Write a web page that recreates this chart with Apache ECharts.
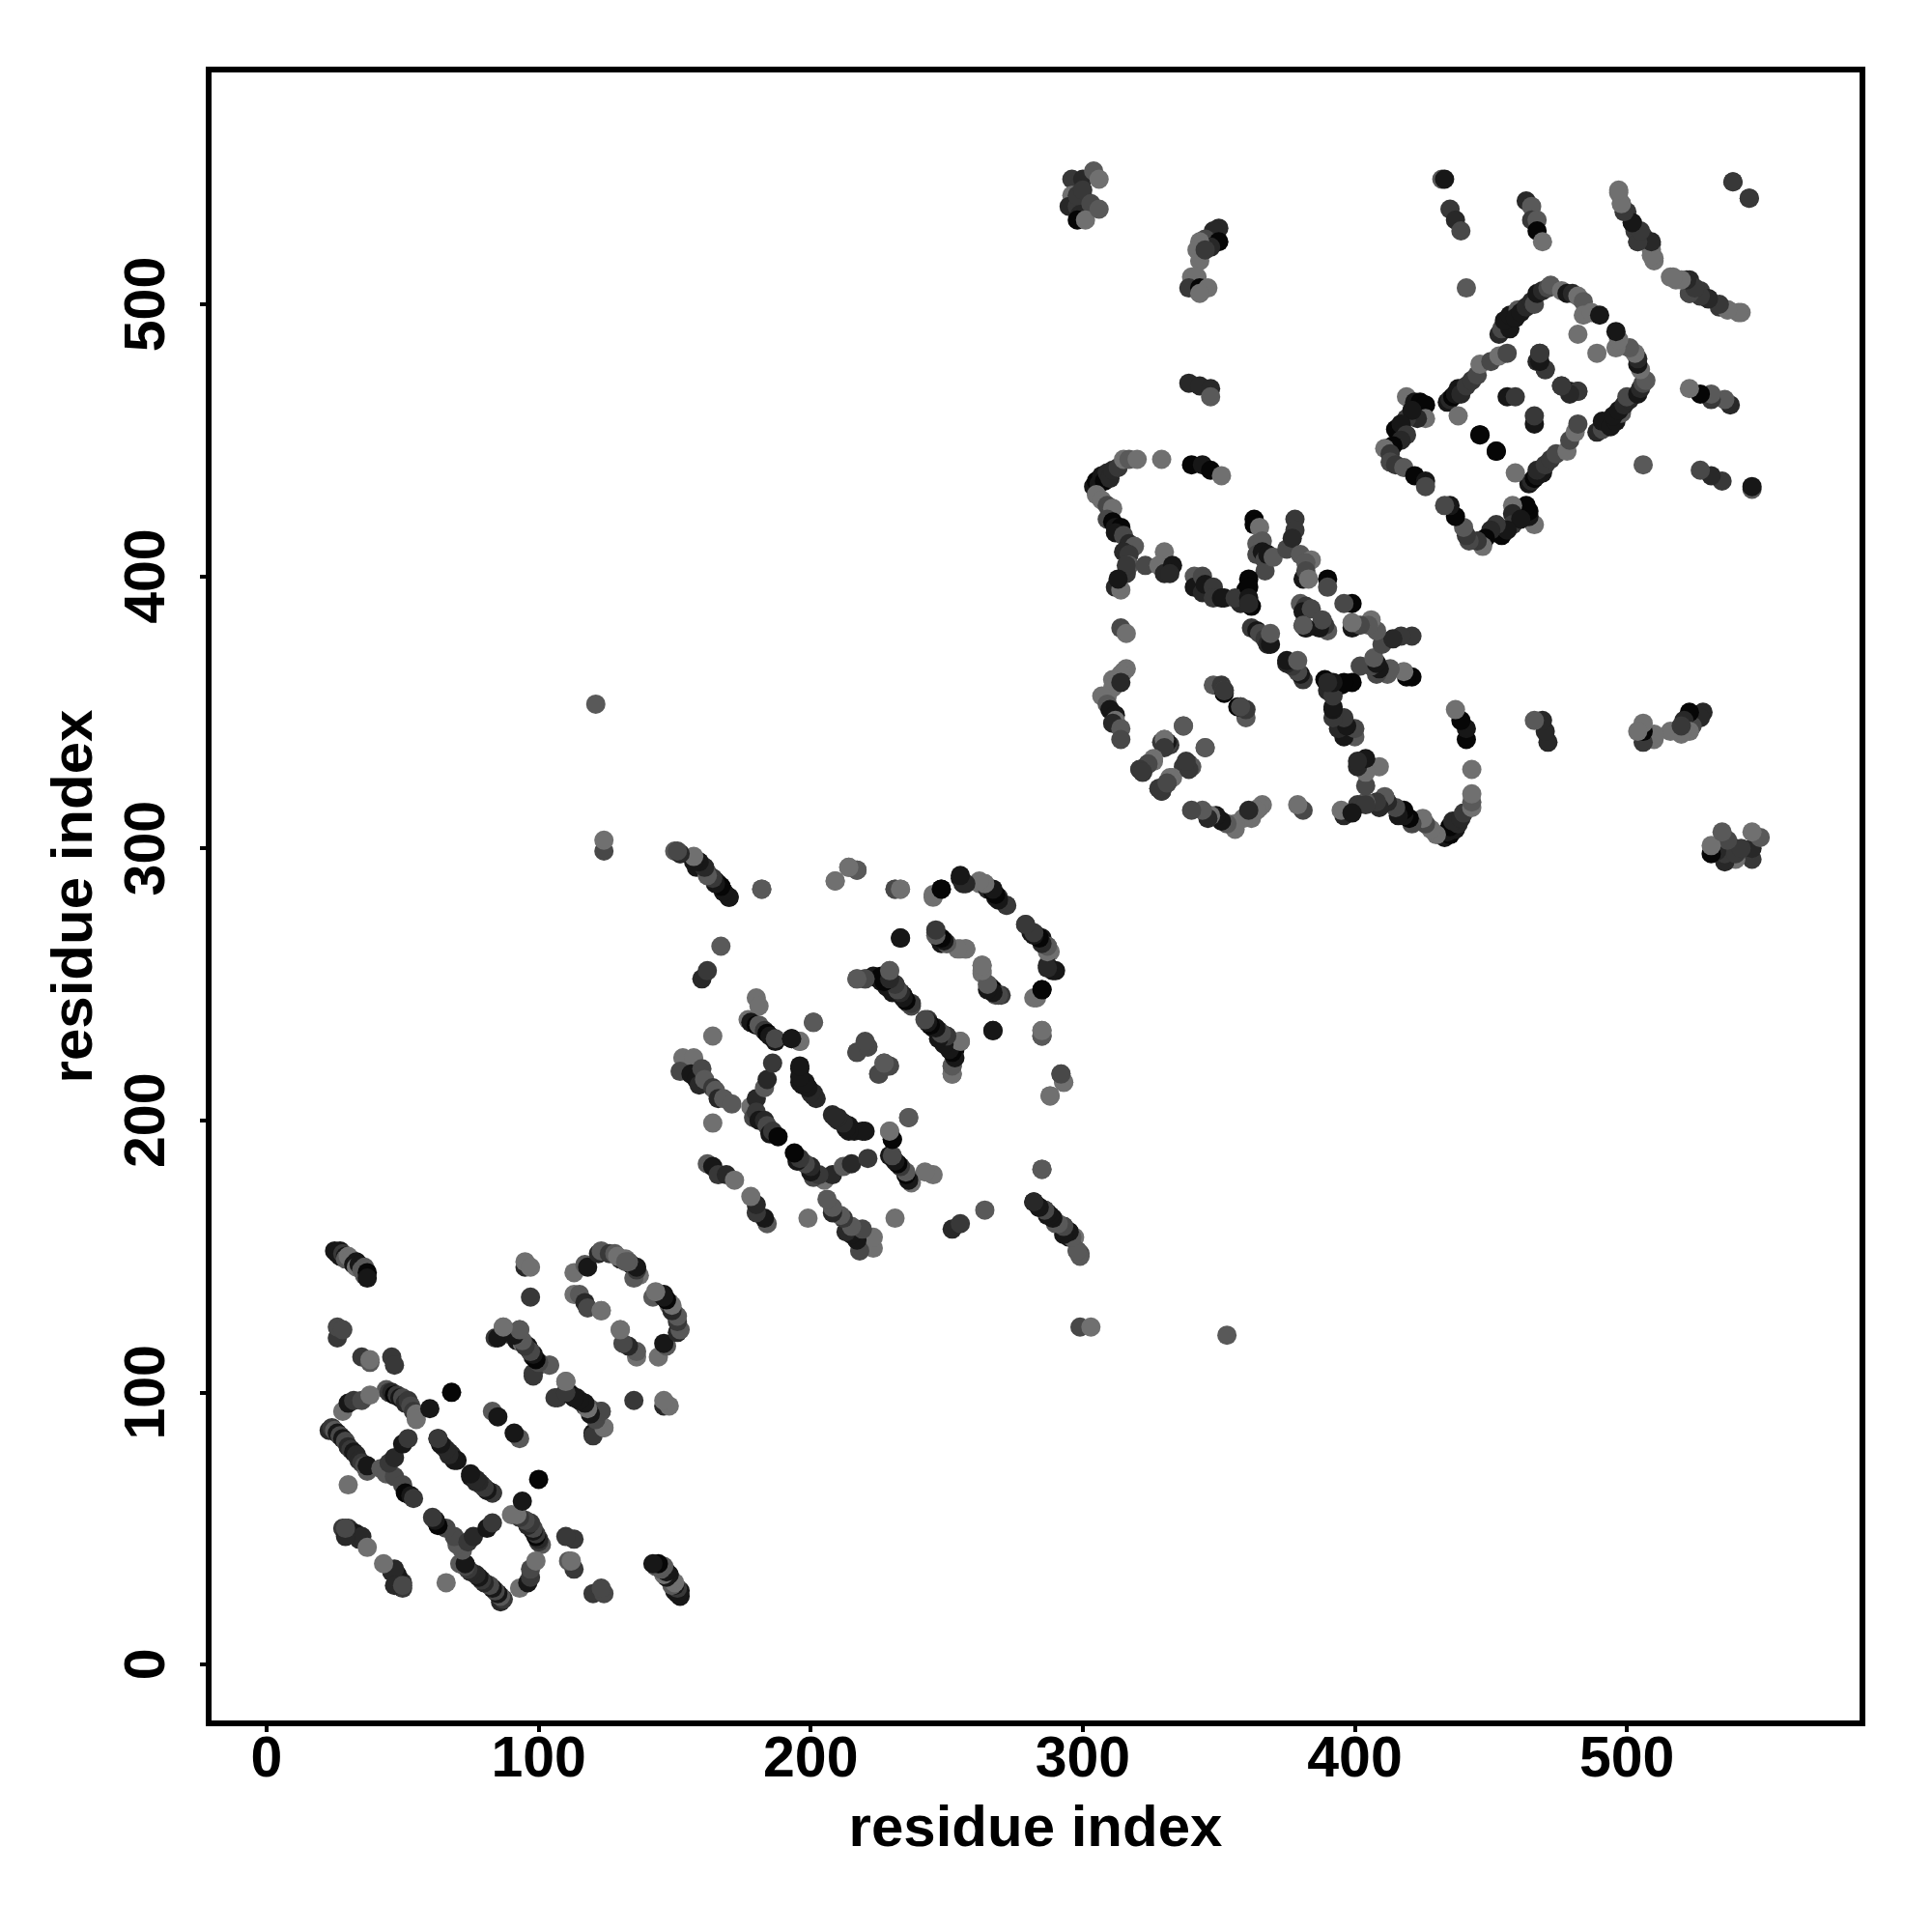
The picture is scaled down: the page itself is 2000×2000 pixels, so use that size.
<!DOCTYPE html>
<html><head><meta charset="utf-8">
<style>html,body{margin:0;padding:0;background:#fff}#c{width:2000px;height:2000px}</style>
<script src="https://cdn.jsdelivr.net/npm/echarts@6/dist/echarts.min.js"></script>
</head><body><div id="c"></div>
<script>
// each contact: [residue i, residue j, shade level 0 (darkest) .. 6 (lightest)], i < j; the map is symmetric
const tickValues = [0, 100, 200, 300, 400, 500];
const axisTitle = 'residue index';
const shadeLevels = ['#060606','#171717','#282828','#383838','#484848','#595959','#707070'];

const domainOne = [
[25,152,1],[26,151,1],[27,152,1],[27,150,1],[28,151,3],[29,150,1],[29,149,5],[30,150,6],[31,149,6],[32,147,1],[33,148,1],[33,146,6],[34,147,1],[35,145,5],[36,146,5],[36,143,5],[37,144,0],[37,142,1],
[26,120,3],[26,124,4],[28,123,4],[35,113,3],[38,111,5],[38,112,6],[46,113,3],[47,110,3],
[44,101,5],[45,100,3],[46,100,2],[47,99,0],[48,99,3],[49,98,1],[50,98,4],[51,96,2],[52,97,3],[53,95,4],[54,93,3],[55,92,6],[55,90,6],
[28,93,6],[30,96,1],[32,97,3],[35,97,4],[38,99,6],[60,94,1],[68,100,0],[83,93,5],[85,91,1],
[23,86,2],[24,87,3],[25,86,5],[26,85,1],[27,84,4],[28,83,1],[29,82,4],[30,80,2],[31,79,3],[32,78,1],[33,77,2],[34,75,2],[35,74,3],[36,73,4],[37,71,5],[37,73,1],
[42,72,5],[44,70,5],[47,69,4],[50,66,4],[51,63,0],[53,62,1],[54,61,3],[45,74,3],[47,76,2],[50,81,1],[52,83,3],
[63,83,3],[64,81,1],[65,80,3],[67,78,2],[68,77,2],[70,75,1],[75,69,1],[77,67,2],[79,66,2],[81,64,1],[83,63,3],
[28,50,3],[30,50,3],[31,49,2],[33,48,1],[34,46,2],[35,47,2],[37,43,6],[29,47,2],[29,50,4],[30,66,6],
[95,146,2],[95,148,6],[97,146,6],[97,135,3],
[113,144,6],[117,147,5],[118,146,1],[122,151,2],[123,152,5],[113,136,6],[115,136,5],[117,133,2],[118,131,4],[123,130,6],
[126,151,3],[128,151,5],[130,149,2],[132,149,6],[134,147,0],[135,146,1],[137,143,6],
[130,123,6],[142,135,5],[145,136,3],[146,136,1],[148,133,5],[150,129,6],[148,132,5],
[84,120,3],[87,124,6],[90,121,4],[93,123,4],[92,119,1],[94,118,6],[96,117,1],[97,115,1],[98,113,1],[98,106,3],[100,110,3],[104,110,6],
[107,98,3],[110,104,5],[111,100,4],[112,99,0],[114,98,1],[115,97,4],[117,95,3],[119,94,5],[120,85,1],[121,91,1],[123,93,5],[124,87,6]
];

const domainTwo = [
[150,299,5],[152,298,5],[157,296,5],[159,295,1],[158,293,1],[161,293,4],[162,291,5],[164,289,1],[165,288,1],[166,287,1],[167,286,4],[168,284,1],[170,282,2],
[182,285,5],[167,264,5],[160,252,2],[162,255,3],
[209,288,6],[214,293,6],[217,292,4],[231,285,5],[233,285,6],[233,267,1],
[245,282,6],[248,285,0],[255,289,1],[256,287,2],[262,287,6],[264,287,5],[265,285,2],[267,284,0],[268,282,1],[269,282,3],[272,279,3],
[279,272,3],[281,269,1],[283,268,0],[285,267,1],[287,264,6],[288,262,6],[287,257,2],[290,255,1],[283,245,6],[285,248,0],[285,231,4],[285,233,6],
[292,217,5],[293,214,6],[288,209,6],[285,182,5],
[282,170,1],[284,168,1],[286,167,0],[287,165,1],[289,164,3],[290,162,5],[293,161,2],[295,159,1],[295,157,1],[297,157,6],[298,152,2],[299,151,4],
[180,245,6],[181,242,6],[177,237,6],[178,236,1],[180,235,0],[181,235,5],[183,233,3],[184,232,0],[185,231,1],[187,229,1],[187,230,4],
[193,230,0],[196,229,6],[201,236,5],
[178,205,6],[180,208,2],[183,212,5],[184,215,2],[186,221,3],
[153,223,6],[157,223,6],[152,218,4],[156,217,1],[158,215,1],[160,219,4],[159,213,2],[161,215,5],[164,212,3],[165,211,5],[166,208,2],[168,208,5],[171,206,5],
[164,199,6],[164,231,6],
[179,201,4],[180,203,3],[181,200,1],[183,200,2],[184,198,4],[185,195,1],[186,196,3],[188,194,0],
[196,219,1],[196,214,1],[197,213,1],[199,212,2],[201,210,2],[201,209,2],[208,202,2],[210,200,2],[212,199,1],[214,198,1],[216,196,1],[220,196,1],
[229,196,6],[230,193,1],[236,201,5],
[217,225,4],[220,228,4],[221,227,5],[225,217,4],[227,221,4],[229,220,4],
[162,184,5],[164,183,1],[166,180,3],[169,180,2],[172,178,6],
[217,252,6],[220,252,5],[223,253,1],[225,252,0],[226,251,1],[229,255,6],[228,249,1],[231,250,3],[230,247,1],[232,248,4],[234,246,1],[235,244,0],[236,243,1],[237,242,4],
[243,237,3],[244,235,0],[245,234,1],[247,233,2],[248,232,4],[250,231,3],[251,227,0],[253,226,0],[252,229,2],[255,229,5],[252,220,4],[252,217,5],
[246,269,4],[247,267,1],[248,265,1],[250,265,5],[255,263,6],[257,263,6],
[263,257,6],[263,254,6],[265,250,5],[266,249,1],[267,248,0],[268,246,5],[270,246,3],[267,233,1]
];

const domainThree = [
[304,433,1],[305,435,0],[306,434,1],[307,437,1],[308,435,0],[309,438,2],[310,436,2],[311,439,2],[313,440,3],[315,443,6],[317,443,5],[320,443,6],[329,443,6],
[340,441,0],[344,441,1],[347,439,0],[351,437,6],
[305,430,6],[307,428,6],[309,426,4],[311,425,6],[309,421,4],[311,420,0],[312,418,1],[314,418,0],[312,416,1],[315,415,4],[317,412,2],[319,411,5],[315,409,2],[317,408,3],[317,404,5],[316,401,3],[316,404,3],[312,396,2],[314,395,6],[313,399,1],
[323,404,4],[330,409,6],[328,404,6],[330,401,2],[333,404,1],[332,401,2],
[341,400,5],[341,396,1],[344,400,4],[344,394,2],[345,397,1],[348,396,3],[348,392,3],[351,392,1],[352,392,1],
[363,421,0],[363,419,0],[365,418,6],[364,412,5],[366,413,5],[364,408,4],[366,409,1],[367,406,4],[367,402,4],[368,408,1],[370,407,5],
[375,410,4],[378,421,3],[378,417,3],[377,414,2],[380,408,5],[384,406,6],[382,405,5],[381,399,1],[382,402,4],[383,399,6],
[390,399,0],[390,396,4],[361,399,0],[360,395,0],[362,389,0],[358,390,2],[356,392,3],[361,396,0],[361,392,1],[361,390,2],
[380,390,5],[382,389,3],[381,387,1],[384,388,4],[381,382,1],[382,381,5],
[362,381,3],[364,380,1],[365,379,4],[367,377,3],[368,375,2],[369,375,1],[369,379,5],
[314,381,4],[316,379,6],[316,366,6],[315,365,6],[314,364,6],[311,362,6],[311,359,6],[314,361,2],[309,356,6],[307,356,6],[309,353,5],[310,351,1],[312,349,1],[312,347,6],[311,346,2],[314,344,5],[314,340,4],
[337,345,5],[330,340,5],[329,339,3],[332,338,3],[345,337,5],
[326,332,6],[321,329,3],[322,328,3],[324,331,4],[338,331,4],[339,331,1],[340,330,6],[337,330,3],
[333,326,6],[331,324,4],[329,321,3],[328,322,3],
[348,360,5],[351,360,3],[352,357,0],[352,358,4],[358,352,3]
];

const domainFour = [
[441,506,5],
[453,489,2],[454,491,4],[457,491,1],[455,494,1],[457,496,1],[460,498,5],[459,495,1],[461,497,1],[463,499,2],[465,501,2],[466,500,4],[467,504,1],[469,505,2],[471,506,4],[472,507,5],[476,505,6],[478,504,1],[480,504,2],[482,503,6],[484,501,5],[484,496,6],[487,497,6],[490,496,1],
[482,489,6],
[434,464,1],[435,465,2],[436,466,0],[437,467,1],[438,459,6],[438,469,1],[439,467,2],[441,470,3],[443,472,3],[445,474,4],[446,478,6],[450,479,4],[453,481,6],[456,482,4],
[419,466,6],[422,464,1],[424,464,0],[426,463,0],[426,458,6],[423,458,2],[419,458,3],[421,461,1],[415,454,0],[417,456,1],[419,452,3],[417,450,2],[414,448,0],[411,447,6],[413,445,3],[413,442,4],[415,441,3],[418,440,5],[422,437,0],[426,435,1],[426,433,4],
[468,482,3],[467,479,2],[470,476,3],[476,470,3],[479,468,1],[482,468,3],
[456,466,1],[459,466,3],[446,452,0],[452,446,0]
];

const crossDomain = [
[121,353,5],[124,299,4],[124,303,6],
[296,546,3],[300,546,2],[304,549,5],[306,546,6],[296,540,6],[295,536,2],[298,536,3],[301,538,3],[301,536,3],[298,540,3],[300,542,3],[299,533,2],[303,537,4],[298,531,0],[301,531,6],[306,535,5],
[350,528,2],[348,527,2],[345,524,4],[350,523,0],[347,521,2],[343,523,6],[342,520,6],[343,516,6],[345,520,3],
[340,510,6],[342,510,6],[339,506,3],[343,506,0],[346,506,6],[343,504,6],
[339,471,2],[343,470,2],[347,469,2],[347,466,5],
[432,546,5],[433,546,1],[435,535,3],[437,531,2],[439,527,4],
[463,538,2],[465,536,5],[465,531,3],[467,531,5],[467,527,0],[469,523,6],
[497,541,6],[498,537,6],[500,534,3],[502,530,2],[503,527,3],[504,523,4],[506,525,3],[509,522,2],[509,520,6],[510,517,6],
[516,510,6],[518,509,6],[523,509,2],[523,504,3],[527,505,3],[530,502,1],[534,499,3],[537,498,6],[542,497,6],
[539,545,3],[545,539,3]
];

const allContacts = domainOne.concat(domainTwo, domainThree, domainFour, crossDomain);
const plotted = allContacts.concat(allContacts.map(c => [c[1], c[0], c[2]]));

const chart = echarts.init(document.getElementById('c'));
const baseFont = {fontFamily:'"Liberation Sans"', fontWeight:'bold', color:'#000', fontSize:59};
function axisOf(min,max,extra){
  return Object.assign({
    type:'value', min, max,
    name:axisTitle, nameLocation:'middle',
    nameTextStyle:Object.assign({},baseFont,{fontSize:60}),
    splitLine:{show:false},
    axisLine:{show:false, onZero:false},
    axisTick:{show:true, inside:false, length:9, lineStyle:{color:'#000',width:4}, customValues:tickValues},
  },extra);
}
chart.setOption({
  animation:false,
  backgroundColor:'#fff',
  grid:{left:216, right:72, top:72, bottom:216, show:true, borderColor:'#000', borderWidth:6, backgroundColor:'transparent'},
  xAxis:axisOf(-21.3,586.6,{nameGap:80, axisLabel:Object.assign({},baseFont,{margin:9,customValues:tickValues})}),
  yAxis:axisOf(-21.7,586.3,{nameGap:108, axisLabel:Object.assign({},baseFont,{margin:62,rotate:90,customValues:tickValues,verticalAlign:'middle',align:'center'})}),
  series:[{
    type:'scatter', symbol:'circle', symbolSize:20, data:plotted, encode:{x:0,y:1},
    clip:false, silent:true,
    itemStyle:{opacity:1, color:p=>shadeLevels[p.value[2]]}
  }]
});
</script></body></html>
